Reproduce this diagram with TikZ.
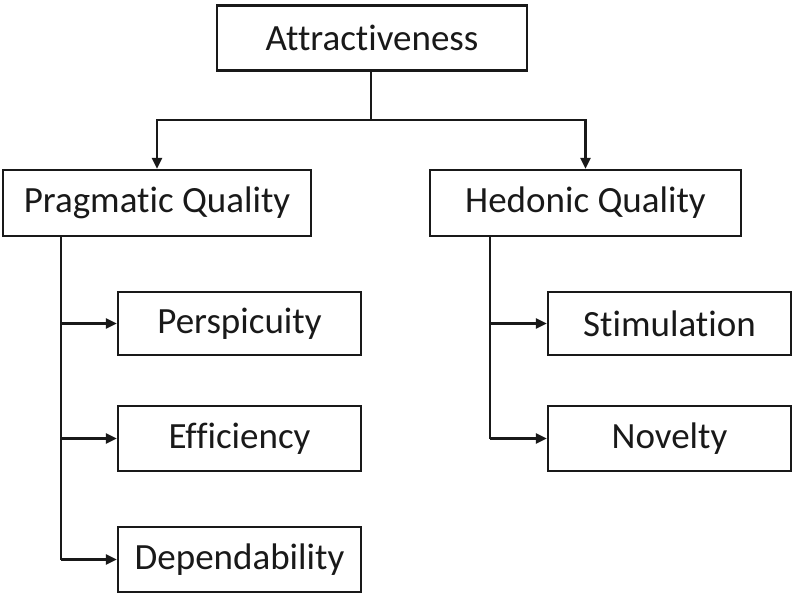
\documentclass[tikz,border=0pt]{standalone}
\usepackage{fontspec}
\setmainfont{Carlito}[Ligatures=NoCommon]
\usetikzlibrary{arrows.meta}
\begin{document}
\begin{tikzpicture}[x=1pt,y=-1pt,
  box/.style={draw=black!90, line width=2.4pt, inner sep=0pt, font=\fontsize{37}{42}\selectfont, text=black!90},
  conn/.style={draw=black!90, line width=2.4pt},
  arr/.style={conn, -{Triangle[length=11pt,width=10pt]}}]
\useasboundingbox (0,0) rectangle (800,600);
\node[box, minimum width=310pt, minimum height=65pt] (att) at (372,38) {Attractiveness};
\node[box, minimum width=308pt, minimum height=66pt] (prag) at (157,203) {Pragmatic Quality};
\node[box, minimum width=311pt, minimum height=66pt] (hed) at (585.5,203) {Hedonic Quality};
\node[box, minimum width=243pt, minimum height=63pt] (per) at (239.5,323.5) {Perspicuity};
\node[box, minimum width=243pt, minimum height=65pt] (eff) at (239.5,438.5) {Efficiency};
\node[box, minimum width=243pt, minimum height=65pt] (dep) at (239.5,559.5) {Dependability};
\node[box, minimum width=243pt, minimum height=63pt] (sti) at (669.5,323.5) {Stimulation};
\node[box, minimum width=243pt, minimum height=65pt] (nov) at (669.5,438.5) {Novelty};
\coordinate (j) at (371,120);
\draw[conn] (att.south -| j) -- (j);
\draw[arr] (j) -| (prag.north);
\draw[arr] (j) -| (hed.north);
\coordinate (lv) at (61,0);
\coordinate (rv) at (490,0);
\draw[conn] (prag.south -| lv) -- (dep.west -| lv);
\draw[arr] (per.west -| lv) -- (per.west);
\draw[arr] (eff.west -| lv) -- (eff.west);
\draw[arr] (dep.west -| lv) -- (dep.west);
\draw[conn] (hed.south -| rv) -- (nov.west -| rv);
\draw[arr] (sti.west -| rv) -- (sti.west);
\draw[arr] (nov.west -| rv) -- (nov.west);
\end{tikzpicture}
\end{document}
